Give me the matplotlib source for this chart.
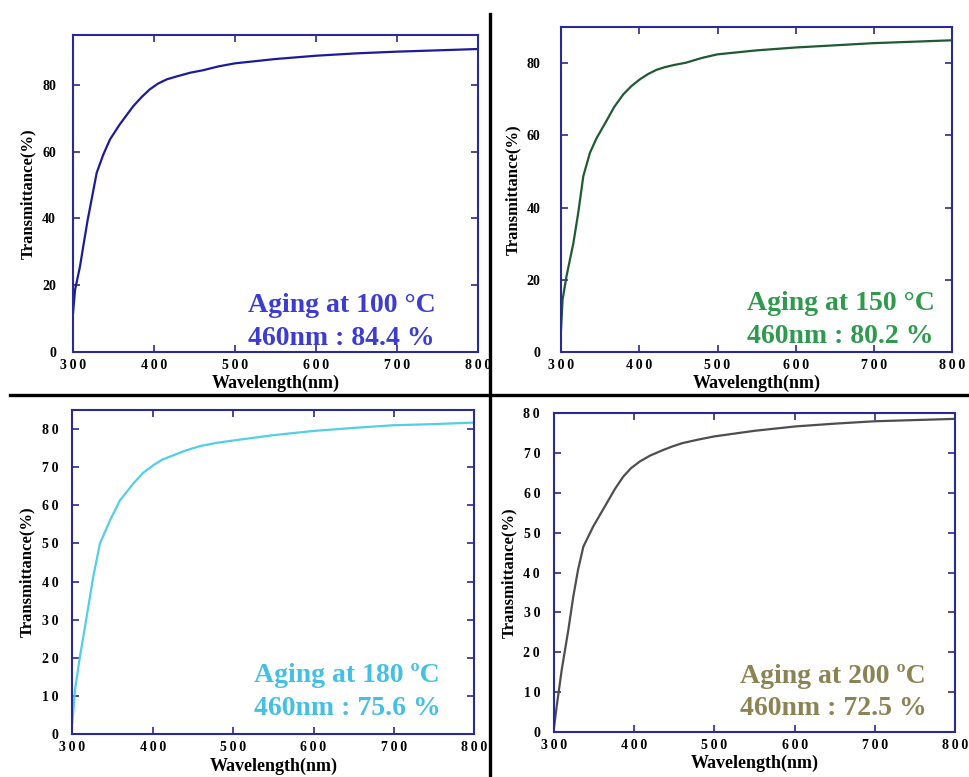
import matplotlib
matplotlib.use("Agg")
import matplotlib.pyplot as plt
from matplotlib.lines import Line2D

plt.rcParams['font.family'] = ['Liberation Serif', 'DejaVu Serif']
plt.rcParams['font.weight'] = 'bold'

# ---- Transmittance spectra after aging at different temperatures ----
wl_100 = [300, 302.9, 309, 313, 318.5, 329.6, 337.8, 346, 358, 374.8, 385, 395, 405, 415.9, 430, 445, 460, 480,
          500, 550, 600.8, 650, 699, 750, 800]
tr_100 = [10.4, 18.6, 25.6, 31.6, 39.6, 53.7, 59.2, 63.7, 68.2, 73.7, 76.4, 78.7, 80.4, 81.7, 82.7, 83.7, 84.4, 85.6,
          86.5, 87.8, 88.8, 89.5, 90.0, 90.4, 90.8]

wl_150 = [300, 302, 307, 315.8, 322, 328.5, 337, 345.6, 358, 368, 379.6, 390, 401, 411, 422, 432, 443.5, 460, 480,
          500, 550, 600, 650, 699, 750, 800]
tr_150 = [6.0, 14.4, 20.9, 30.1, 38.5, 48.7, 55.2, 59.3, 64.0, 67.9, 71.4, 73.7, 75.6, 77.0, 78.2, 78.9, 79.5, 80.2, 81.5,
          82.5, 83.6, 84.4, 85.0, 85.6, 86.0, 86.4]

wl_180 = [300, 303.3, 309.5, 317.8, 326, 334.4, 346.8, 359.3, 375.9, 388, 400.7, 412, 425.6, 440, 460, 480,
          500.3, 550, 599.8, 650, 699, 750, 800]
tr_180 = [2.8, 11.5, 20.3, 30.7, 41.2, 50.0, 56.0, 61.3, 65.7, 68.5, 70.5, 72.0, 73.1, 74.3, 75.6, 76.4,
          77.0, 78.4, 79.5, 80.3, 81.0, 81.3, 81.7]

wl_200 = [300, 303.3, 309.6, 317.9, 324, 330, 336.6, 349, 365.7, 376, 386.4, 396, 407, 420, 436.3, 448, 460, 480,
          500, 550, 601, 650, 700, 750, 800]
tr_200 = [1.0, 6.3, 15.5, 25.6, 33.9, 40.7, 46.5, 51.6, 57.4, 61.0, 64.1, 66.2, 67.9, 69.4, 70.8, 71.7, 72.5, 73.4,
          74.2, 75.6, 76.7, 77.4, 78.0, 78.3, 78.6]

temps = ['100', '150', '180', '200']
t460 = ['84.4', '80.2', '75.6', '72.5']
deg_marks = ['\u00b0', '\u00b0', '\u00ba', '\u00ba']

x_ticks = [300, 400, 500, 600, 700, 800]
y_ticks_a = [0, 20, 40, 60, 80]
y_ticks_b = [0, 10, 20, 30, 40, 50, 60, 70, 80]

W, H = 969, 777
fig = plt.figure(figsize=(W / 100, H / 100), dpi=100)
fig.patch.set_facecolor('white')

frame_color = '#2a2a96'

panels = [
    dict(box=(72.7, 35.0, 478.3, 351.8), wl=wl_100, tr=tr_100, ylim=95, yticks=y_ticks_a,
         line='#1c1c9a', txt='#3c3cd2', tx=0.432, ty=(0.127, 0.022), ypad=12, ylab=45, spaced=False),
    dict(box=(561.0, 27.3, 952.3, 351.7), wl=wl_150, tr=tr_150, ylim=90, yticks=y_ticks_a,
         line='#1f5a33', txt='#2f9a4e', tx=0.475, ty=(0.128, 0.026), ypad=15, ylab=48, spaced=False),
    dict(box=(72.3, 410.0, 474.3, 734.0), wl=wl_180, tr=tr_180, ylim=85, yticks=y_ticks_b,
         line='#52cfe6', txt='#44c0e4', tx=0.452, ty=(0.161, 0.059), ypad=10, ylab=45, spaced=True),
    dict(box=(554.0, 413.3, 955.0, 731.7), wl=wl_200, tr=tr_200, ylim=80, yticks=y_ticks_b,
         line='#4e4e4e', txt='#8c8354', tx=0.464, ty=(0.152, 0.053), ypad=10, ylab=45, spaced=True),
]


def spaced(s):
    return '\u2009'.join(s)


for i, p in enumerate(panels):
    l, t, r, b = p['box']
    ax = fig.add_axes([l / W, 1 - b / H, (r - l) / W, (b - t) / H])
    ax.plot(p['wl'], p['tr'], color=p['line'], lw=1.6)
    ax.set_xlim(300, 800)
    ax.set_ylim(0, p['ylim'])

    ax.set_xticks(x_ticks)
    ax.set_xticklabels([spaced(str(v)) for v in x_ticks])
    ax.set_yticks(p['yticks'])
    if p['spaced']:
        ax.set_yticklabels([spaced(str(v)) for v in p['yticks']])
    else:
        ax.set_yticklabels([str(v) for v in p['yticks']])

    ax.tick_params(axis='both', direction='in', length=5, width=1.2, color=frame_color,
                   top=True, right=True, labelsize=10)
    ax.tick_params(axis='x', pad=5)
    ax.tick_params(axis='y', pad=p['ypad'])
    for lab in ax.get_xticklabels() + ax.get_yticklabels():
        lab.set_fontweight('bold')
        lab.set_color('black')
    for sp in ax.spines.values():
        sp.set_color(frame_color)
        sp.set_linewidth(1.5)

    wpx, hpx = r - l, b - t
    ax.set_xlabel('Wavelength(nm)', fontsize=13, fontweight='bold')
    ax.set_ylabel('Transmittance(%)', fontsize=12, fontweight='bold')
    ax.xaxis.set_label_coords(0.5, -32.0 / hpx)
    ax.xaxis.label.set_va('center')
    ax.yaxis.set_label_coords(-p['ylab'] / wpx, 0.5)
    ax.yaxis.label.set_va('center')

    ax.text(p['tx'], p['ty'][0], f"Aging at {temps[i]} {deg_marks[i]}C", transform=ax.transAxes,
            fontsize=20, fontweight='bold', color=p['txt'], ha='left', va='baseline')
    ax.text(p['tx'], p['ty'][1], f"460nm : {t460[i]} %", transform=ax.transAxes,
            fontsize=20, fontweight='bold', color=p['txt'], ha='left', va='baseline')

# Black separators between the four panels
fig.add_artist(Line2D([490 / W, 490 / W], [0, 1 - 14 / H], transform=fig.transFigure,
                      color='black', lw=2.4))
fig.add_artist(Line2D([10 / W, 1], [1 - 395 / H, 1 - 395 / H], transform=fig.transFigure,
                      color='black', lw=2.4))

fig.savefig('out.png', dpi=100, facecolor='white')
